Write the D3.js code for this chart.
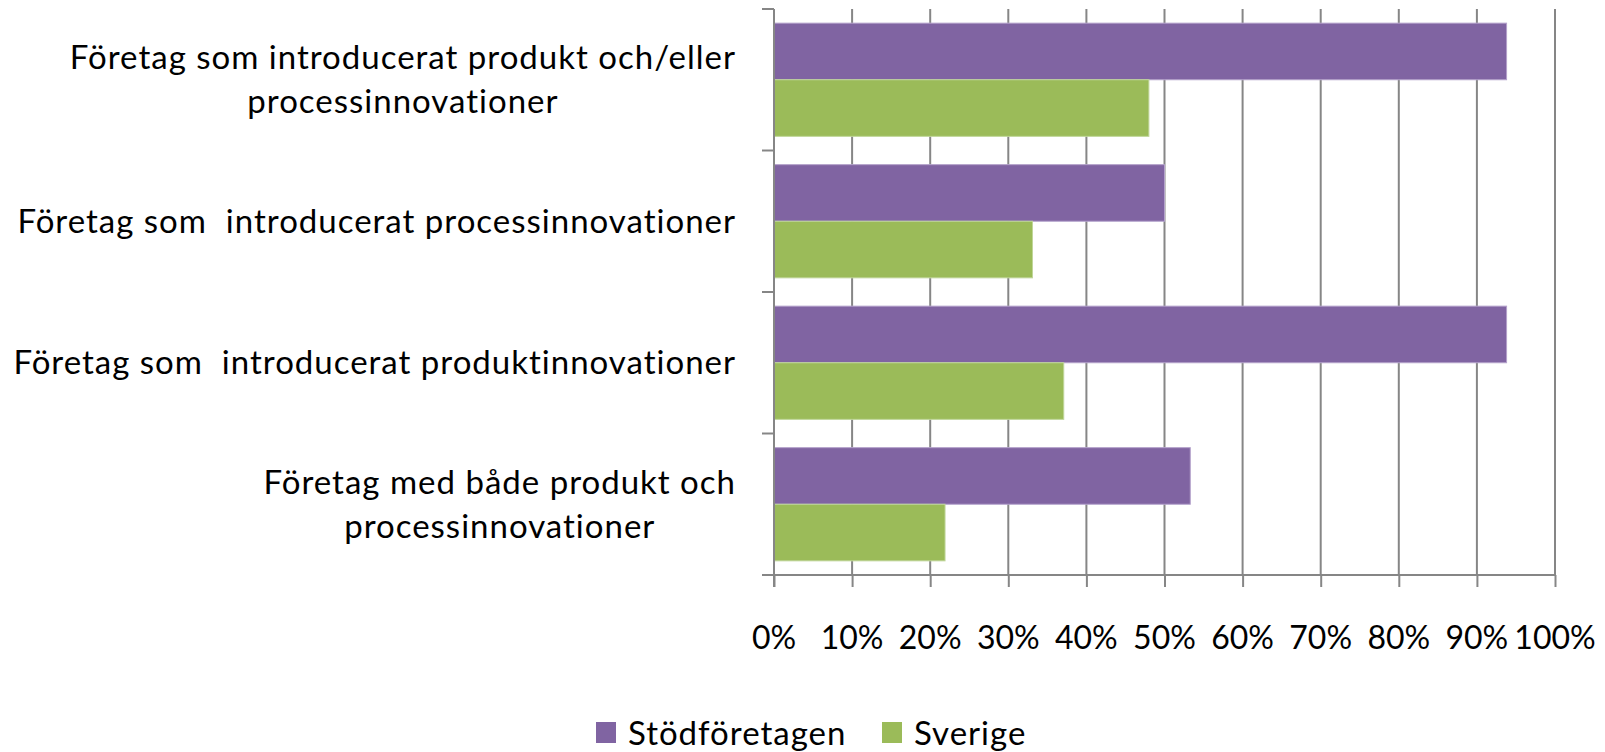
<!DOCTYPE html>
<html>
<head>
<meta charset="utf-8">
<script src="https://cdn.jsdelivr.net/npm/d3@7"></script>
<style>
  html, body { margin: 0; padding: 0; background: #fff; }
  svg text { font-family: Lato, "Open Sans", sans-serif; fill: #000; }
</style>
</head>
<body>
<svg id="chart" width="1605" height="752"></svg>
<script>
// ---- data ----
const categories = [
  ["Företag som introducerat produkt och/eller", "processinnovationer"],
  ["Företag som  introducerat processinnovationer"],
  ["Företag som  introducerat produktinnovationer"],
  ["Företag med både produkt och", "processinnovationer"]
];
const seriesNames = ["Stödföretagen", "Sverige"];
const stodforetagen = [93.8, 50.0, 93.8, 53.3];
const sverige = [48.0, 33.1, 37.1, 21.9];
const tickValues = [0, 10, 20, 30, 40, 50, 60, 70, 80, 90, 100];
const tickLabels = ["0%", "10%", "20%", "30%", "40%", "50%", "60%", "70%", "80%", "90%", "100%"];
const colors = ["#8064A2", "#9BBB59"];
const strokeColors = ["#B4A2CB", "#C0D69A"];

(function () {
// ---- layout ----
const svg = d3.select("#chart");
const pLeft = 774, pRight = 1555, pTop = 9, pBottom = 575;
const fontSize = 32;
const labelFont = 33;

const x = d3.scaleLinear().domain([0, 100]).range([pLeft, pRight]);
const idx = d3.range(categories.length);
const y = d3.scaleBand().domain(idx).range([pTop, pBottom]).padding(0);
const ySub = d3.scaleBand().domain([0, 1]).range([y.bandwidth() * 0.1, y.bandwidth() * 0.9]).padding(0);

const axisColor = "#868686";

// gridlines
svg.append("g").selectAll("line").data(tickValues.filter(d => d > 0)).join("line")
  .attr("x1", d => x(d)).attr("x2", d => x(d))
  .attr("y1", pTop).attr("y2", pBottom)
  .attr("stroke", axisColor).attr("stroke-width", 2);

// bars
const seriesData = [stodforetagen, sverige];
seriesData.forEach((vals, s) => {
  svg.append("g").selectAll("rect").data(vals).join("rect")
    .attr("x", x(0))
    .attr("y", (d, i) => y(i) + ySub(s))
    .attr("width", d => x(d) - x(0))
    .attr("height", ySub.bandwidth())
    .attr("fill", colors[s])
    .attr("stroke", strokeColors[s])
    .attr("stroke-width", 1);
});

// x axis
const xAxis = d3.axisBottom(x).tickValues(tickValues).tickSize(12).tickFormat("");
const gx = svg.append("g").attr("transform", `translate(0,${pBottom})`).call(xAxis);
gx.select(".domain").remove();
gx.selectAll(".tick line").attr("stroke", axisColor).attr("stroke-width", 2);
svg.append("line").attr("x1", pLeft - 12).attr("x2", pRight + 1)
  .attr("y1", pBottom).attr("y2", pBottom)
  .attr("stroke", axisColor).attr("stroke-width", 2);

// x tick labels
svg.append("g").selectAll("text").data(tickValues).join("text")
  .attr("x", d => x(d))
  .attr("y", 649)
  .attr("text-anchor", "middle")
  .attr("font-size", fontSize)
  .text((d, i) => tickLabels[i]);

// y axis line & ticks
svg.append("line").attr("x1", pLeft).attr("x2", pLeft)
  .attr("y1", pTop).attr("y2", pBottom + 12)
  .attr("stroke", axisColor).attr("stroke-width", 2);
const yBoundaries = d3.range(categories.length + 1).map(i => pTop + i * y.step());
svg.append("g").selectAll("line").data(yBoundaries).join("line")
  .attr("x1", pLeft - 12).attr("x2", pLeft)
  .attr("y1", d => d).attr("y2", d => d)
  .attr("stroke", axisColor).attr("stroke-width", 2);

// category labels
const labelRight = 736;
const lineH = 44;
categories.forEach((lines, i) => {
  const g = svg.append("g");
  const cy = y(i) + y.bandwidth() / 2;
  const texts = lines.map((ln, k) => g.append("text")
    .attr("font-size", labelFont)
    .attr("letter-spacing", 1)
    .attr("text-anchor", "middle")
    .style("white-space", "pre")
    .attr("y", cy + (k - (lines.length - 1) / 2) * lineH + labelFont * 0.35)
    .text(ln));
  const maxW = d3.max(texts, t => t.node().getComputedTextLength());
  texts.forEach(t => t.attr("x", labelRight - maxW / 2));
});

// legend
const legendY = 733;
const legendItems = [{ x: 596, name: seriesNames[0], c: colors[0] }, { x: 882, name: seriesNames[1], c: colors[1] }];
legendItems.forEach(it => {
  svg.append("rect").attr("x", it.x).attr("y", legendY - 11).attr("width", 20).attr("height", 21).attr("fill", it.c);
  svg.append("text").attr("x", it.x + 32).attr("y", legendY + 12)
    .attr("font-size", labelFont).attr("letter-spacing", 1).text(it.name);
});
})();
</script>
</body>
</html>
